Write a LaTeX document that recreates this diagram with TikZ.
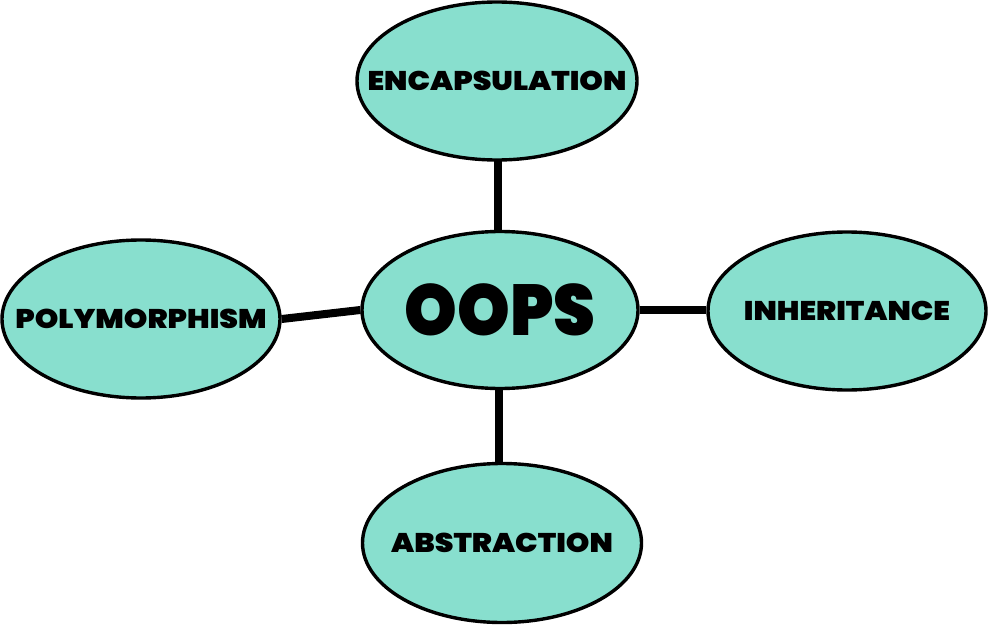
\documentclass[tikz,border=0pt]{standalone}
\usepackage{fontspec}
\newfontfamily\heavy{Poppins}[UprightFont=* Black, FakeStretch=1.11]
\newfontfamily\heavybig{Poppins}[UprightFont=* Black, FakeStretch=0.93]
\usetikzlibrary{shapes.geometric}
\definecolor{mint}{HTML}{88DFCE}
\tikzset{
  bubble/.style={ellipse, draw=black, line width=3.4pt, fill=mint, inner sep=0pt,
    font=\heavy\fontsize{27}{27}\selectfont},
  link/.style={line width=8pt}
}
\newcommand{\lbl}[1]{\makebox[0pt]{\raisebox{-3pt}{#1}}}
\newcommand{\biglbl}[1]{\makebox[0pt]{#1}}
\begin{document}
\begin{tikzpicture}[x=1pt,y=-1pt]
\useasboundingbox (0,0) rectangle (988,626);
\node[bubble, minimum width=280pt, minimum height=158pt] (enc) at (497,81) {\lbl{ENCAPSULATION}};
\node[bubble, minimum width=276pt, minimum height=157pt, font=\heavybig\fontsize{72}{72}\selectfont] (oops) at (500,310) {\biglbl{OOPS}};
\node[bubble, minimum width=278pt, minimum height=158pt] (poly) at (141,319) {\lbl{POLYMORPHISM}};
\node[bubble, minimum width=278pt, minimum height=158pt] (inh) at (847,311) {\lbl{INHERITANCE}};
\node[bubble, minimum width=279pt, minimum height=159pt] (abs) at (502,543) {\lbl{ABSTRACTION}};
\coordinate (encb) at (498,160);
\coordinate (absb) at (499,464);
\draw[link] (encb) -- (encb |- oops.north);
\draw[link] (poly.east) -- (oops.west);
\draw[link] (oops.east) -- (inh.west |- oops.east);
\draw[link] (absb |- oops.south) -- (absb);
\end{tikzpicture}
\end{document}
